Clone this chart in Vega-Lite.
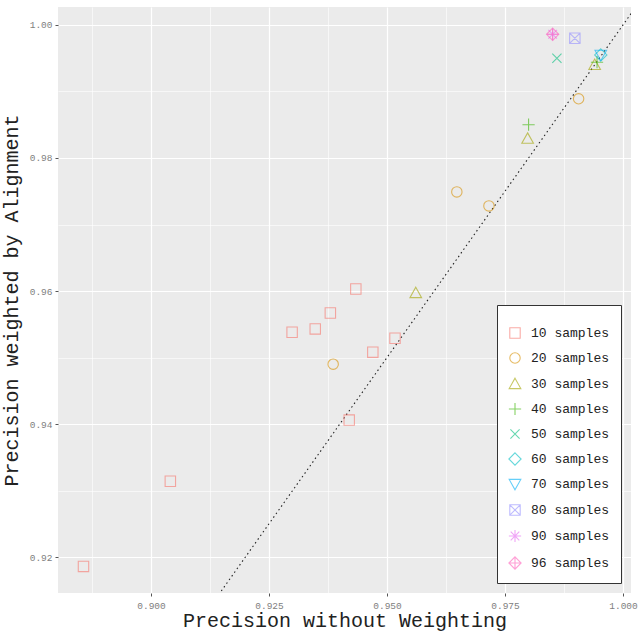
{
  "$schema": "https://vega.github.io/schema/vega-lite/v6.json",
  "width": 573,
  "height": 586,
  "autosize": {"type": "none"},
  "padding": {"left": 58, "top": 7, "right": 9, "bottom": 43},
  "background": "white",
  "config": {
    "view": {"fill": "#EBEBEB", "stroke": null},
    "font": "Liberation Mono"
  },
  "datasets": {
    "pts": [
      {"x": 0.8857, "y": 0.9186, "group": "10 samples"},
      {"x": 0.9041, "y": 0.9314, "group": "10 samples"},
      {"x": 0.9299, "y": 0.9538, "group": "10 samples"},
      {"x": 0.9348, "y": 0.9543, "group": "10 samples"},
      {"x": 0.9380, "y": 0.9567, "group": "10 samples"},
      {"x": 0.9434, "y": 0.9603, "group": "10 samples"},
      {"x": 0.9470, "y": 0.9508, "group": "10 samples"},
      {"x": 0.9517, "y": 0.9529, "group": "10 samples"},
      {"x": 0.9420, "y": 0.9406, "group": "10 samples"},
      {"x": 0.9386, "y": 0.9490, "group": "20 samples"},
      {"x": 0.9648, "y": 0.9749, "group": "20 samples"},
      {"x": 0.9716, "y": 0.9728, "group": "20 samples"},
      {"x": 0.9906, "y": 0.9889, "group": "20 samples"},
      {"x": 0.9561, "y": 0.9597, "group": "30 samples"},
      {"x": 0.9798, "y": 0.9829, "group": "30 samples"},
      {"x": 0.9940, "y": 0.9940, "group": "30 samples"},
      {"x": 0.9800, "y": 0.9850, "group": "40 samples"},
      {"x": 0.9945, "y": 0.9944, "group": "40 samples"},
      {"x": 0.9860, "y": 0.9950, "group": "50 samples"},
      {"x": 0.9953, "y": 0.9955, "group": "60 samples"},
      {"x": 0.9953, "y": 0.9955, "group": "70 samples"},
      {"x": 0.9898, "y": 0.9980, "group": "80 samples"},
      {"x": 0.9851, "y": 0.9986, "group": "90 samples"},
      {"x": 0.9851, "y": 0.9986, "group": "96 samples"}
    ],
    "diag": [
      {"x": 0.90, "y": 0.90},
      {"x": 1.01, "y": 1.01}
    ]
  },
  "layer": [
    {
      "data": {"name": "diag"},
      "mark": {"type": "line", "clip": true, "color": "#222222", "strokeDash": [1.5, 3], "strokeWidth": 1.1},
      "encoding": {
        "x": {"field": "x", "type": "quantitative"},
        "y": {"field": "y", "type": "quantitative"}
      }
    },
    {
      "data": {"name": "pts"},
      "mark": {"type": "point", "filled": false, "strokeWidth": 1.1, "opacity": 0.6, "size": 150},
      "encoding": {
        "x": {
          "field": "x", "type": "quantitative",
          "scale": {"domain": [0.8803, 1.0017], "nice": false, "zero": false},
          "axis": {
            "title": "Precision without Weighting",
            "titleFont": "Liberation Mono", "titleFontSize": 20, "titleFontWeight": "normal", "titleColor": "#222222",
            "titlePadding": 1,
            "values": [0.8875, 0.9, 0.9125, 0.925, 0.9375, 0.95, 0.9625, 0.975, 0.9875, 1.0],
            "labelExpr": "abs(round(datum.value*40) - datum.value*40) < 0.01 ? format(datum.value, '.3f') : ''",
            "labelFont": "Liberation Mono", "labelFontSize": 9.5, "labelColor": "#808080",
            "labelPadding": 4,
            "domain": false,
            "gridColor": "white",
            "gridWidth": {"condition": {"test": "abs(round(datum.value*40) - datum.value*40) < 0.01", "value": 1.2}, "value": 0.6},
            "tickColor": "#555555", "tickSize": 3,
            "tickOpacity": {"condition": {"test": "abs(round(datum.value*40) - datum.value*40) < 0.01", "value": 1}, "value": 0}
          }
        },
        "y": {
          "field": "y", "type": "quantitative",
          "scale": {"domain": [0.9146, 1.0027], "nice": false, "zero": false},
          "axis": {
            "title": "Precision weighted by Alignment",
            "titleFont": "Liberation Mono", "titleFontSize": 20, "titleFontWeight": "normal", "titleColor": "#222222",
            "titlePadding": 8,
            "values": [0.92, 0.93, 0.94, 0.95, 0.96, 0.97, 0.98, 0.99, 1.0],
            "labelExpr": "abs(round(datum.value*50) - datum.value*50) < 0.01 ? format(datum.value, '.2f') : ''",
            "labelFont": "Liberation Mono", "labelFontSize": 9.5, "labelColor": "#808080",
            "labelPadding": 3,
            "domain": false,
            "gridColor": "white",
            "gridWidth": {"condition": {"test": "abs(round(datum.value*50) - datum.value*50) < 0.01", "value": 1.2}, "value": 0.6},
            "tickColor": "#555555", "tickSize": 3,
            "tickOpacity": {"condition": {"test": "abs(round(datum.value*50) - datum.value*50) < 0.01", "value": 1}, "value": 0}
          }
        },
        "color": {
          "field": "group", "type": "nominal",
          "scale": {
            "domain": ["10 samples", "20 samples", "30 samples", "40 samples", "50 samples", "60 samples", "70 samples", "80 samples", "90 samples", "96 samples"],
            "range": ["#F8766D", "#D89000", "#A3A500", "#39B600", "#00BF7D", "#00BFC4", "#00B0F6", "#9590FF", "#E76BF3", "#FF62BC"]
          },
          "legend": {
            "title": " ",
            "titleFontSize": 2,
            "titlePadding": 8,
            "orient": "bottom-right",
            "offset": 10,
            "padding": 11,
            "fillColor": "white",
            "strokeColor": "#333333",
            "labelFont": "Liberation Mono",
            "labelFontSize": 13,
            "labelColor": "#222222",
            "symbolSize": 150,
            "symbolStrokeWidth": 1.1,
            "rowPadding": 9,
            "labelOffset": 9
          }
        },
        "shape": {
          "field": "group", "type": "nominal",
          "scale": {
            "domain": ["10 samples", "20 samples", "30 samples", "40 samples", "50 samples", "60 samples", "70 samples", "80 samples", "90 samples", "96 samples"],
            "range": [
              "M-0.85,-0.85L0.85,-0.85L0.85,0.85L-0.85,0.85Z",
              "M-0.85,0A0.85,0.85 0 1,0 0.85,0A0.85,0.85 0 1,0 -0.85,0Z",
              "M0,-0.95L0.95,0.75L-0.95,0.75Z",
              "M-1,0L1,0M0,-1L0,1",
              "M-0.75,-0.75L0.75,0.75M-0.75,0.75L0.75,-0.75",
              "M0,-1L1,0L0,1L-1,0Z",
              "M0,0.95L0.95,-0.75L-0.95,-0.75Z",
              "M-0.85,-0.85L0.85,-0.85L0.85,0.85L-0.85,0.85ZM-0.85,-0.85L0.85,0.85M-0.85,0.85L0.85,-0.85",
              "M-1,0L1,0M0,-1L0,1M-0.7,-0.7L0.7,0.7M-0.7,0.7L0.7,-0.7",
              "M0,-1L1,0L0,1L-1,0ZM-1,0L1,0M0,-1L0,1"
            ]
          },
          "legend": {
            "title": " ",
            "titleFontSize": 2,
            "titlePadding": 8,
            "orient": "bottom-right",
            "offset": 10,
            "padding": 11,
            "fillColor": "white",
            "strokeColor": "#333333",
            "labelFont": "Liberation Mono",
            "labelFontSize": 13,
            "labelColor": "#222222",
            "symbolSize": 150,
            "symbolStrokeWidth": 1.1,
            "rowPadding": 9,
            "labelOffset": 9
          }
        }
      }
    }
  ]
}
